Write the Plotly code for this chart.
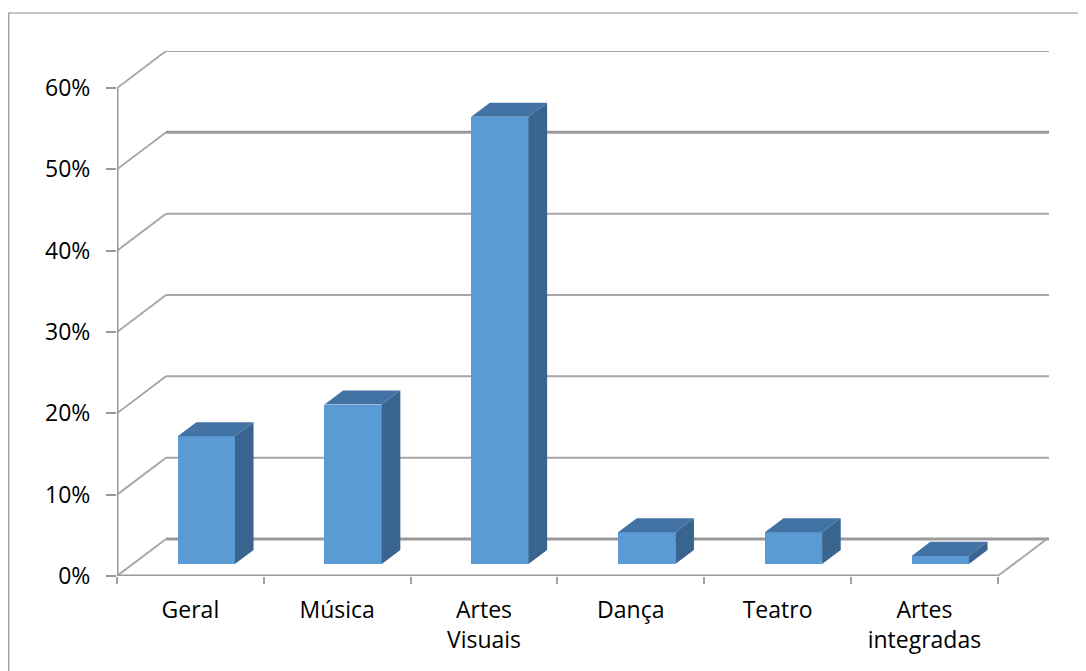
import plotly.graph_objects as go

# ---- data ----
categories = ["Geral", "Música", "Artes<br>Visuais", "Dança", "Teatro", "Artes<br>integradas"]
values = [15.7, 19.6, 55.0, 3.9, 3.9, 1.0]
y_ticks = [0, 10, 20, 30, 40, 50, 60]
y_tick_labels = [f"{v}%" for v in y_ticks]

# ---- pseudo-3D geometry (data units) ----
DX = 0.334      # depth offset along x (category units)
DY = 4.55       # depth offset along y (percent units)
F0 = 0.324      # depth position of bar front face
BD = 0.38       # bar depth (fraction of full depth)
BW = 0.39       # bar width
n = len(categories)
x_left, x_right = -0.5, n - 0.5

FRONT = "#5B9BD5"
TOP = "#4373A4"
SIDE = "#39648F"
GRID = "#A6A6A6"

fig = go.Figure()

shapes = []
# back wall gridlines
for v in y_ticks:
    thick = v in (0, 50)
    shapes.append(dict(type="line", xref="x", yref="y", layer="below",
                       x0=x_left + DX, x1=x_right + DX + 0.015, y0=v + DY, y1=v + DY,
                       line=dict(color="#9A9A9A" if thick else GRID, width=3 if thick else 2)))
    # left wall diagonals
    shapes.append(dict(type="line", xref="x", yref="y", layer="below",
                       x0=x_left, x1=x_left + DX, y0=v, y1=v + DY,
                       line=dict(color="#A4A4A4", width=1.8)))
# floor front edge and right edge
shapes.append(dict(type="line", xref="x", yref="y", layer="below",
                   x0=x_left, x1=x_right, y0=0, y1=0,
                   line=dict(color="#9A9A9A", width=3)))
shapes.append(dict(type="line", xref="x", yref="y", layer="below",
                   x0=x_right, x1=x_right + DX, y0=0, y1=DY,
                   line=dict(color="#A4A4A4", width=1.8)))
# front vertical axis
shapes.append(dict(type="line", xref="x", yref="y", layer="below",
                   x0=x_left, x1=x_left, y0=0, y1=max(y_ticks),
                   line=dict(color="#999999", width=3)))
# outer chart border
shapes.append(dict(type="rect", xref="paper", yref="paper",
                   x0=-0.116, x1=1.06, y0=-0.25, y1=1.0724,
                   line=dict(color="#8C8C8C", width=1.2), fillcolor="rgba(0,0,0,0)", layer="below"))

# front faces of bars
xc = [i + F0 * DX for i in range(n)]
fig.add_trace(go.Bar(x=xc, y=values, base=[F0 * DY] * n, width=BW,
                     marker=dict(color=FRONT, line=dict(width=0)),
                     hoverinfo="skip", showlegend=False))

# top and side faces
tx, ty, sx, sy = [], [], [], []
for i, v in enumerate(values):
    xl = xc[i] - BW / 2
    xr = xc[i] + BW / 2
    b = F0 * DY
    t = b + v
    ddx, ddy = BD * DX, BD * DY
    tx += [xl, xr, xr + ddx, xl + ddx, xl, None]
    ty += [t, t, t + ddy, t + ddy, t, None]
    sx += [xr, xr, xr + ddx, xr + ddx, xr, None]
    sy += [b, t, t + ddy, b + ddy, b, None]
fig.add_trace(go.Scatter(x=tx, y=ty, mode="lines", fill="toself", fillcolor=TOP,
                         line=dict(width=0, color=TOP), hoverinfo="skip", showlegend=False))
fig.add_trace(go.Scatter(x=sx, y=sy, mode="lines", fill="toself", fillcolor=SIDE,
                         line=dict(width=0, color=SIDE), hoverinfo="skip", showlegend=False))

font_family = "Open Sans, Lato, DejaVu Sans, sans-serif"
fig.update_layout(
    width=1078, height=663,
    margin=dict(l=109, r=36, t=43, b=95),
    paper_bgcolor="white", plot_bgcolor="white",
    shapes=shapes,
    font=dict(family=font_family, size=23, color="#000000"),
    xaxis=dict(range=[x_left, x_left + 933 / 146.8], showgrid=False, zeroline=False,
               showline=False, tickmode="array", tickvals=list(range(n)), ticktext=categories,
               ticks="", ticklabelstandoff=18, automargin=False,
               minor=dict(tickmode="array", tickvals=[x_left + k for k in range(n + 1)],
                          ticks="outside", ticklen=7, tickwidth=1.5, tickcolor="#A0A0A0",
                          showgrid=False),
               fixedrange=True),
    yaxis=dict(range=[0, 525 / 8.133], showgrid=False, zeroline=False, showline=False,
               tickmode="array", tickvals=y_ticks, ticktext=y_tick_labels,
               ticks="outside", ticklen=10, tickwidth=1.5, tickcolor="#999999",
               ticklabelstandoff=11, automargin=False, fixedrange=True),
    bargap=0,
)

fig.write_html("out.html")
